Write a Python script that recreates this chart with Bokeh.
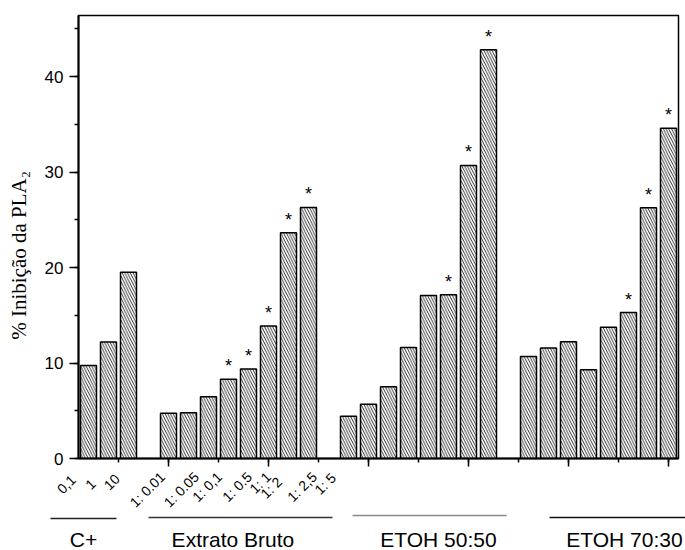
from bokeh.plotting import figure
from bokeh.layouts import column
from bokeh.models import Range1d, SingleIntervalTicker, ColumnDataSource, CustomJSTickFormatter
from bokeh.core.properties import value
from bokeh.embed import file_html
from bokeh.resources import INLINE

# ---- data ----
group_names = ["C+", "Extrato Bruto", "ETOH 50:50", "ETOH 70:30"]
cplus_doses = ["0,1", "1", "10"]
extrato_doses = ["1: 0.01", "1: 0.05", "1: 0,1", "1: 0.5", "1: 1", "1: 2", "1: 2,5", "1: 5"]

cplus = [9.75, 12.2, 19.5]
extrato = [4.73, 4.8, 6.48, 8.29, 9.37, 13.87, 23.65, 26.3]
etoh_5050 = [4.42, 5.67, 7.52, 11.63, 17.06, 17.14, 30.7, 42.8]
etoh_7030 = [10.69, 11.57, 12.23, 9.3, 13.76, 15.29, 26.26, 34.59]

sig_cplus = [0, 0, 0]
sig_extrato = [0, 0, 0, 1, 1, 1, 1, 1]
sig_5050 = [0, 0, 0, 0, 0, 1, 1, 1]
sig_7030 = [0, 0, 0, 0, 0, 1, 1, 1]

y_title = "% Inibição da PLA₂"

# ---- layout of the texts under the axis (x in axis units, y in pixels below the axis) ----
dose_label_x = [0.24, 1.24, 2.44, 4.7, 6.4, 7.55, 9.05, 10.0, 10.55, 12.3, 13.25]
dose_label_px = [19, 23, 18, 16, 16, 16, 16, 16, 21, 16, 17]
group_line_x0 = [-0.9, 4.0, 14.2, 24.05]
group_line_x1 = [2.4, 13.2, 21.9, 30.85]
group_line_px = [60, 59, 57, 59]
group_line_color = ["#222222", "#333333", "#8a8a8a", "#111111"]
group_text_x = [0.75, 8.22, 18.5, 27.8]
group_text_px = [81, 81, 81, 81]

series = [cplus, extrato, etoh_5050, etoh_7030]
sigs = [sig_cplus, sig_extrato, sig_5050, sig_7030]

xs, tops, star_x, star_y = [], [], [], []
pos = 1
for vals, sg in zip(series, sigs):
    for i, v in enumerate(vals):
        xs.append(pos + i)
        tops.append(v)
        if sg[i]:
            star_x.append(pos + i)
            star_y.append(v)
    pos += len(vals) + 1

bar_src = ColumnDataSource(dict(x=xs, top=tops))
star_src = ColumnDataSource(dict(x=star_x, y=star_y, t=["*"] * len(star_x)))

# ---- main chart ----
p = figure(width=685, height=467, x_range=Range1d(0.5, 30.5), y_range=Range1d(0, 46.4),
           toolbar_location=None, output_backend="svg",
           min_border_left=78, min_border_right=7, min_border_top=15, min_border_bottom=9)
p.frame_align = False
p.grid.visible = False
p.outline_line_color = "black"
p.outline_line_width = 1.5
p.background_fill_color = "white"
p.border_fill_color = "white"

p.vbar(x="x", top="top", width=0.8, bottom=0, source=bar_src,
       fill_color="white", line_color="black", line_width=1.5,
       hatch_pattern="\\", hatch_color="black", hatch_scale=5.5, hatch_weight=0.8)

p.text(x="x", y="y", text="t", source=star_src, y_offset=-13,
       text_align="center", text_baseline="alphabetic",
       text_font=value("Liberation Sans"), text_font_size="18px", text_color="black")

ya = p.yaxis[0]
ya.ticker = SingleIntervalTicker(interval=10, num_minor_ticks=2)
ya.axis_line_width = 2
ya.major_tick_out = 9
ya.major_tick_in = 0
ya.minor_tick_out = 4
ya.minor_tick_in = 0
ya.major_tick_line_width = 1.5
ya.minor_tick_line_width = 1.5
ya.major_label_standoff = 6
ya.major_label_text_font = "Liberation Sans"
ya.major_label_text_font_size = "17px"
ya.major_label_text_color = "black"
ya.axis_label = y_title + "\u00a0" * 7
ya.axis_label_text_font = "Liberation Serif"
ya.axis_label_text_font_style = "normal"
ya.axis_label_text_font_size = "21px"
ya.axis_label_text_color = "black"
ya.axis_label_standoff = 11

xa = p.xaxis[0]
xa.ticker = SingleIntervalTicker(interval=5, num_minor_ticks=2)
xa.formatter = CustomJSTickFormatter(code="return ''")
xa.axis_line_width = 2
xa.major_tick_out = 8
xa.major_tick_in = 0
xa.minor_tick_out = 4
xa.minor_tick_in = 0
xa.major_tick_line_width = 1.5
xa.minor_tick_line_width = 1.5
xa.major_label_standoff = 0
xa.major_label_text_font_size = "1px"

# ---- strip below the axis: dose labels and group names ----
q = figure(width=685, height=83, x_range=Range1d(-3.4, 30.85), y_range=Range1d(92, 9),
           x_axis_type=None, y_axis_type=None, toolbar_location=None, output_backend="svg",
           min_border=0, outline_line_color=None)
q.frame_align = False
q.background_fill_color = "white"
q.border_fill_color = "white"

dose_src = ColumnDataSource(dict(x=dose_label_x, y=dose_label_px, t=cplus_doses + extrato_doses))
q.text(x="x", y="y", text="t", source=dose_src, angle=0.785398,
       text_align="right", text_baseline="middle",
       text_font=value("Liberation Sans"), text_font_size="14px", text_color="black")

q.segment(x0=group_line_x0, x1=group_line_x1, y0=group_line_px, y1=group_line_px,
          line_color=group_line_color, line_width=1.3)

q.text(x=group_text_x, y=group_text_px, text=group_names,
       text_align="center", text_baseline="alphabetic",
       text_font=value("Liberation Sans"), text_font_size="21px", text_color="black")

layout = column(p, q, spacing=0)
open("out.html", "w").write(file_html(layout, INLINE))
